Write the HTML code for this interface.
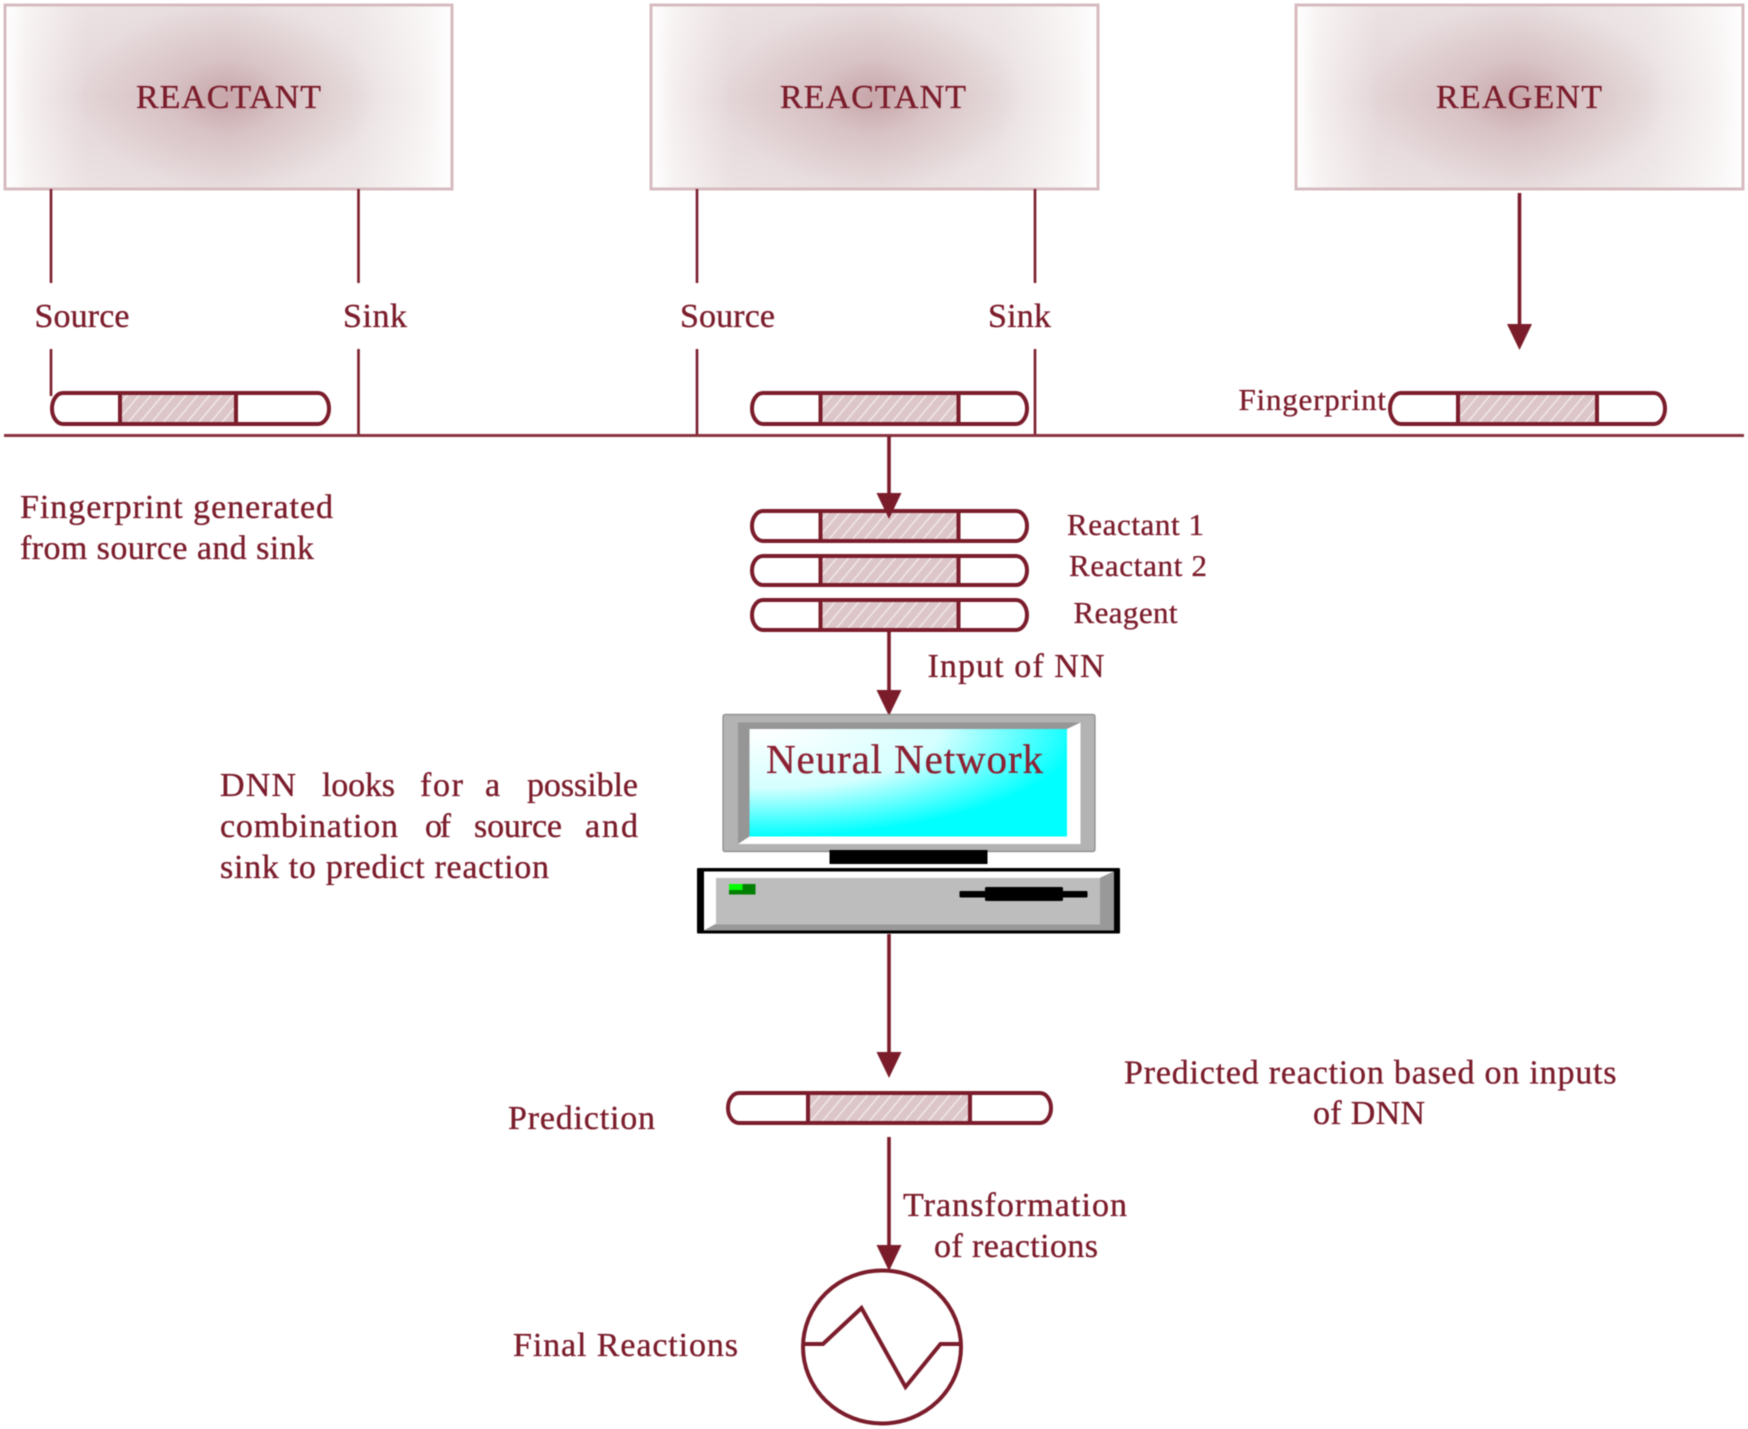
<!DOCTYPE html>
<html><head><meta charset="utf-8"><style>html,body{margin:0;padding:0;background:#fff}svg{display:block;filter:blur(.45px)}text{font-family:"Liberation Serif",serif;fill:#7b1c2b;stroke:#7b1c2b;stroke-width:.35px}</style></head>
<body>
<svg width="1748" height="1429" viewBox="0 0 1748 1429" xmlns="http://www.w3.org/2000/svg">
<defs>
<linearGradient id="h" x1="0" x2="1" y1="0" y2="0"><stop offset="0" stop-color="#fff"/><stop offset=".05" stop-color="#f5efef"/><stop offset=".18" stop-color="#e4d6d8"/><stop offset=".5" stop-color="#ddcdcf"/><stop offset=".78" stop-color="#e8dedf"/><stop offset=".95" stop-color="#f8f4f4"/><stop offset="1" stop-color="#fff"/></linearGradient>
<radialGradient id="r"><stop offset="0" stop-color="#a96f75" stop-opacity=".42"/><stop offset=".4" stop-color="#a96f75" stop-opacity=".17"/><stop offset="1" stop-color="#a96f75" stop-opacity="0"/></radialGradient>
<radialGradient id="sc" cx=".05" cy="0" r="1"><stop offset="0" stop-color="#fff"/><stop offset=".55" stop-color="#d5ffff"/><stop offset="1" stop-color="#0ff"/></radialGradient>
<pattern id="hatch" width="9" height="9" patternUnits="userSpaceOnUse" patternTransform="rotate(40)"><rect width="9" height="9" fill="#dcc6c9"/><rect width="1.3" height="9" fill="#f4ecec"/></pattern>
<linearGradient id="fadeB" x1="0" x2="0" y1="0" y2="1"><stop offset="0" stop-color="#fff" stop-opacity=".3"/><stop offset=".5" stop-color="#fff" stop-opacity="0"/><stop offset="1" stop-color="#fff" stop-opacity=".3"/></linearGradient>
</defs>

<!-- top boxes -->
<g stroke="none">
<rect x="5" y="5" width="447" height="184" fill="url(#h)"/><rect x="5" y="5" width="447" height="184" fill="url(#fadeB)"/><ellipse cx="228" cy="97" rx="150" ry="92" fill="url(#r)"/>
<rect x="651" y="5" width="447" height="184" fill="url(#h)"/><rect x="651" y="5" width="447" height="184" fill="url(#fadeB)"/><ellipse cx="874" cy="97" rx="150" ry="92" fill="url(#r)"/>
<rect x="1296" y="5" width="447" height="184" fill="url(#h)"/><rect x="1296" y="5" width="447" height="184" fill="url(#fadeB)"/><ellipse cx="1519" cy="97" rx="150" ry="92" fill="url(#r)"/>
</g>
<g fill="none" stroke="#d6bcbf" stroke-width="3">
<rect x="5" y="5" width="447" height="184"/><rect x="651" y="5" width="447" height="184"/><rect x="1296" y="5" width="447" height="184"/>
</g>

<!-- connectors -->
<g stroke="#7b1c2b" stroke-width="2.600" fill="none">
<path d="M51 189V283M51 349V396M358.500 189V283M358.500 349V435M697 189V283M697 349V435M1035 189V283M1035 349V435"/>
</g>
<path d="M4 435.500H1744" stroke="#8a3340" stroke-width="3"/>

<!-- pills -->
<g stroke="#7b1c2b" stroke-width="4" fill="#fff">
<rect x="52" y="393" width="277" height="31" rx="11" ry="15.500"/>
<rect x="752" y="393" width="275" height="31" rx="11" ry="15.500"/>
<rect x="1390" y="393" width="275" height="31" rx="11" ry="15.500"/>
<rect x="752" y="511" width="275" height="30" rx="11" ry="15"/>
<rect x="752" y="556" width="275" height="29" rx="11" ry="14.500"/>
<rect x="752" y="600" width="275" height="30" rx="11" ry="15"/>
<rect x="728" y="1093" width="323" height="30" rx="11" ry="15"/>
</g>
<g stroke="#7b1c2b" stroke-width="4" fill="url(#hatch)">
<rect x="120" y="393" width="116" height="31"/>
<rect x="820.500" y="393" width="138" height="31"/>
<rect x="1458" y="393" width="139" height="31"/>
<rect x="820.500" y="511" width="138" height="30"/>
<rect x="820.500" y="556" width="138" height="29"/>
<rect x="820.500" y="600" width="138" height="30"/>
<rect x="808" y="1093" width="162" height="30"/>
</g>

<!-- arrows -->
<g stroke="#7b1c2b" stroke-width="3.600" fill="none">
<path d="M1519.500 193V330M889 436V500M889 632V695M889 934V1058M889 1137V1250"/>
</g>
<g fill="#7b1c2b">
<path d="M1507 324H1532L1519.500 350Z"/>
<path d="M876.500 493H901.500L889 519Z"/>
<path d="M876.500 690H901.500L889 716Z"/>
<path d="M876.500 1052H901.500L889 1078Z"/>
<path d="M876.500 1245H901.500L889 1271Z"/>
</g>

<!-- computer -->
<rect x="723" y="714.500" width="372" height="137" rx="2" fill="#b3b3b3" stroke="#8a8a8a" stroke-width="1.200"/>
<path d="M738 722.500H1080.500L1067 729H749.500V836.500L738 844Z" fill="#969696"/>
<path d="M1080.500 722.500V844H738L749.500 836.500H1067V729Z" fill="#fff"/>
<rect x="749.500" y="729" width="317.500" height="107.500" fill="url(#sc)"/>
<rect x="829.500" y="850" width="158" height="14" fill="#000"/>
<rect x="697" y="868" width="423" height="65.500" rx="1" fill="#000"/>
<path d="M704 871.500H1114L1100 878H716V924L704 930.500Z" fill="#fff"/>
<path d="M1114 871.500V924H1100V878Z" fill="#999"/>
<path d="M1114 924V930.500H704L716 924Z" fill="#999"/>
<rect x="716" y="878" width="384" height="46.500" fill="#bdbdbd"/>
<rect x="729" y="884" width="26.500" height="10.500" fill="#008000"/>
<rect x="729" y="884" width="13.500" height="6" fill="#0f0"/>
<rect x="959.500" y="891" width="128" height="6.500" rx="1" fill="#000"/>
<rect x="985" y="887" width="78" height="14" rx="1.500" fill="#000"/>

<!-- final circle -->
<ellipse cx="882" cy="1347" rx="79" ry="76.500" fill="#fff" stroke="#7b1c2b" stroke-width="4"/>
<polyline points="804,1344 823,1344 861.500,1308 905.500,1387 940.500,1344 960,1344" fill="none" stroke="#7b1c2b" stroke-width="4"/>

<!-- labels -->
<g font-size="34">
<text x="136" y="108" textLength="185" lengthAdjust="spacing">REACTANT</text>
<text x="780" y="108" textLength="186" lengthAdjust="spacing">REACTANT</text>
<text x="1436" y="108" textLength="166" lengthAdjust="spacing">REAGENT</text>
<text x="34.500" y="327" textLength="95" lengthAdjust="spacing">Source</text>
<text x="343" y="327" textLength="64" lengthAdjust="spacing">Sink</text>
<text x="680" y="327" textLength="95" lengthAdjust="spacing">Source</text>
<text x="988" y="327" textLength="63" lengthAdjust="spacing">Sink</text>
<text x="20" y="518" textLength="313" lengthAdjust="spacing">Fingerprint generated</text>
<text x="20" y="559" textLength="294" lengthAdjust="spacing">from source and sink</text>
<text x="927.500" y="677" textLength="177" lengthAdjust="spacing">Input of NN</text>
<text x="220" y="796" textLength="76" lengthAdjust="spacing">DNN</text>
<text x="322" y="796" textLength="73" lengthAdjust="spacing">looks</text>
<text x="420" y="796" textLength="43" lengthAdjust="spacing">for</text>
<text x="485" y="796" textLength="16" lengthAdjust="spacing">a</text>
<text x="527" y="796" textLength="111" lengthAdjust="spacing">possible</text>
<text x="220" y="837" textLength="178" lengthAdjust="spacing">combination</text>
<text x="425" y="837" textLength="26" lengthAdjust="spacing">of</text>
<text x="474" y="837" textLength="88" lengthAdjust="spacing">source</text>
<text x="585" y="837" textLength="53" lengthAdjust="spacing">and</text>
<text x="220" y="878" textLength="329" lengthAdjust="spacing">sink to predict reaction</text>
<text x="1124" y="1083.500" textLength="492.500" lengthAdjust="spacing">Predicted reaction based on inputs</text>
<text x="1313" y="1124" textLength="112" lengthAdjust="spacing">of DNN</text>
<text x="508" y="1129" textLength="147" lengthAdjust="spacing">Prediction</text>
<text x="903" y="1216" textLength="224" lengthAdjust="spacing">Transformation</text>
<text x="934" y="1257" textLength="164" lengthAdjust="spacing">of reactions</text>
<text x="513" y="1356" textLength="225" lengthAdjust="spacing">Final Reactions</text>
</g>
<g font-size="31">
<text x="1238.500" y="410" textLength="147.500" lengthAdjust="spacing">Fingerprint</text>
<text x="1067" y="535" textLength="137" lengthAdjust="spacing">Reactant 1</text>
<text x="1069" y="576" textLength="138" lengthAdjust="spacing">Reactant 2</text>
<text x="1073.500" y="623" textLength="104" lengthAdjust="spacing">Reagent</text>
</g>
<text x="766" y="773" font-size="41" textLength="277" lengthAdjust="spacing" style="fill:#8c2133;stroke:#8c2133">Neural Network</text>
</svg>
</body></html>
